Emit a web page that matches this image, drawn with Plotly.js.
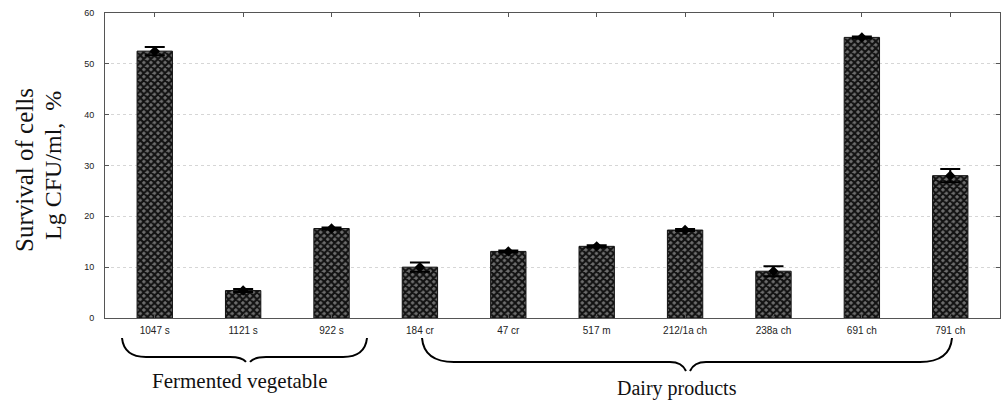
<!DOCTYPE html>
<html>
<head>
<meta charset="utf-8">
<script src="https://cdn.plot.ly/plotly-3.0.1.min.js"></script>
<style>html,body{margin:0;padding:0;background:#fff;}#chart{width:1006px;height:400px;}</style>
</head>
<body>
<div id="chart"></div>
<script>
const strains = ["1047 s", "1121 s", "922 s", "184 cr", "47 cr", "517 m", "212/1a ch", "238a ch", "691 ch", "791 ch"];
const survival = [52.5, 5.4, 17.6, 10.0, 13.1, 14.1, 17.3, 9.2, 55.2, 28.0];
const errors = [0.8, 0.3, 0.2, 0.9, 0.2, 0.2, 0.2, 1.0, 0.2, 1.3];
const yTicks = [0, 10, 20, 30, 40, 50, 60];
const groupLabels = ["Fermented vegetable", "Dairy products"];
const yTitleLines = ["Survival of cells", "Lg CFU/ml,  %"];

// layout geometry (pixels)
const W = 1006, H = 400, L = 105, R = 6, T = 13, B = 82;
const pw = W - L - R, ph = H - T - B;
const px = x => (x - L) / pw;
const py = y => (H - B - y) / ph;
function P(x, y) { return px(x).toFixed(5) + "," + py(y).toFixed(5); }
function brace(x0, x1, xc, ytip, yh, ydip, r) {
  return "M" + P(x0, ytip) +
    " Q" + P(x0 + 2, yh) + " " + P(x0 + r, yh) +
    " L" + P(xc - 18, yh) +
    " Q" + P(xc - 6, yh) + " " + P(xc - 2, ydip) +
    " M" + P(xc + 2, ydip) +
    " Q" + P(xc + 6, yh) + " " + P(xc + 18, yh) +
    " L" + P(x1 - r, yh) +
    " Q" + P(x1 - 2, yh) + " " + P(x1, ytip);
}

const bars = {
  type: "bar",
  x: strains,
  y: survival,
  marker: {
    color: "#666",
    line: {color: "#111", width: 1},
    pattern: {shape: "x", fgcolor: "#121212", bgcolor: "#6e6e6e", size: 5, solidity: 0.65}
  },
  error_y: {type: "data", array: errors, visible: true, color: "#000", thickness: 2, width: 10},
  hoverinfo: "x+y"
};
const means = {
  type: "scatter",
  mode: "markers",
  x: strains,
  y: survival,
  marker: {symbol: "diamond", size: 8, color: "#000"},
  hoverinfo: "skip"
};

const axisCommon = {
  showline: true, linecolor: "#555", linewidth: 1, mirror: "allticks",
  ticks: "inside", ticklen: 4, tickcolor: "#555",
  tickfont: {family: "Liberation Sans, Arial, sans-serif", size: 9, color: "#222"}
};

const layout = {
  width: W, height: H,
  margin: {l: L, r: R, t: T, b: B, pad: 0},
  paper_bgcolor: "#fff", plot_bgcolor: "#fff",
  showlegend: false,
  bargap: 0.6,
  xaxis: Object.assign({}, axisCommon, {
    type: "category", showgrid: false, ticklabelstandoff: 3,
    tickfont: {family: "Liberation Sans, Arial, sans-serif", size: 10, color: "#222"}
  }),
  yaxis: Object.assign({}, axisCommon, {
    range: [0, 60], tickvals: yTicks, ticktext: yTicks.map(String),
    showgrid: true, gridcolor: "#d6d6d6", griddash: "dot", gridwidth: 1,
    zeroline: false, ticklabelstandoff: 8
  }),
  shapes: [
    {type: "path", xref: "paper", yref: "paper", path: brace(122, 367, 248, 338, 357, 362, 24), line: {color: "#000", width: 2}},
    {type: "path", xref: "paper", yref: "paper", path: brace(422, 952, 688, 338, 362, 371, 32), line: {color: "#000", width: 2}}
  ],
  annotations: [
    {xref: "paper", yref: "paper", x: px(240), y: py(381), text: groupLabels[0], showarrow: false,
     xanchor: "center", yanchor: "middle", font: {family: "Liberation Serif, Times New Roman, serif", size: 21, color: "#111"}},
    {xref: "paper", yref: "paper", x: px(677), y: py(388), text: groupLabels[1], showarrow: false,
     xanchor: "center", yanchor: "middle", font: {family: "Liberation Serif, Times New Roman, serif", size: 20, color: "#111"}},
    {xref: "paper", yref: "paper", x: px(24), y: py(170), text: yTitleLines[0], showarrow: false, textangle: -90,
     xanchor: "center", yanchor: "middle", font: {family: "Liberation Serif, Times New Roman, serif", size: 25, color: "#111"}},
    {xref: "paper", yref: "paper", x: px(53), y: py(166), text: yTitleLines[1], showarrow: false, textangle: -90,
     xanchor: "center", yanchor: "middle", font: {family: "Liberation Serif, Times New Roman, serif", size: 24, color: "#111"}}
  ]
};

Plotly.newPlot("chart", [bars, means], layout, {displayModeBar: false, staticPlot: true});
</script>
</body>
</html>
